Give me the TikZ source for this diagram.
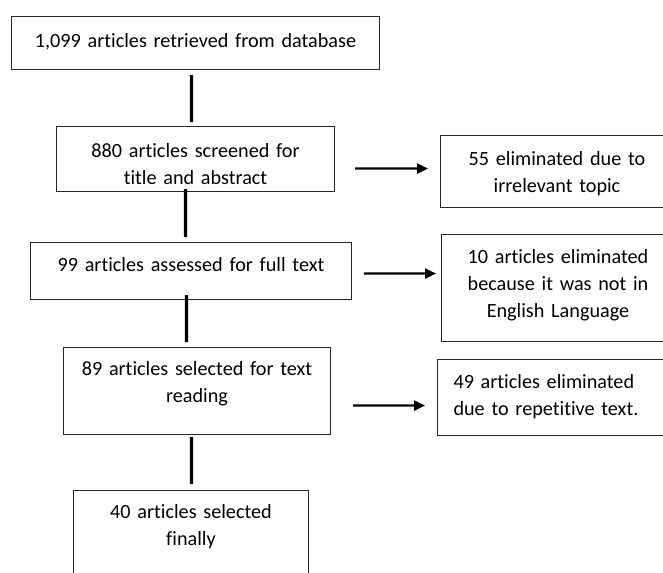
\documentclass[tikz,border=0pt]{standalone}
\usepackage{fontspec}
\setmainfont{Carlito}[RawFeature=-liga]
\usepackage{tikz}
\usetikzlibrary{arrows.meta,positioning,calc}
\tikzset{
    recbox/.style={rectangle, draw=black!85, line width=0.6pt, inner sep=0pt, align=center, font=\fontsize{11.5}{15.5}\selectfont},
    exbox/.style={recbox},
    link/.style={line width=1.8pt, black},
    elim/.style={line width=1.3pt, black, -{Triangle[length=0.22cm,width=0.2cm]}},
}
\begin{document}
\begin{tikzpicture}[x=0.02cm, y=-0.02cm]
    \useasboundingbox (0,0) rectangle (663,572);
    % main flow
    \node[recbox, anchor=north west, text width=7.36cm, text height=0.61cm, text depth=0.45cm] (b1) at (11,16) {1,099 articles retrieved from database};
    \node[recbox, anchor=north west, text width=5.56cm, text height=0.62cm, text depth=0.68cm] (b2) at (56,126) {880 articles screened for\\title and abstract};
    \node[recbox, anchor=north west, text width=6.42cm, text height=0.57cm, text depth=0.57cm] (b3) at (30,242) {99 articles assessed for full text};
    \node[recbox, anchor=north west, text width=5.34cm, text height=0.56cm, text depth=1.18cm] (b4) at (63,347) {89 articles selected for text\\reading};
    \node[recbox, anchor=north west, text width=4.70cm, text height=0.56cm, text depth=1.24cm] (b5) at (73,490) {40 articles selected\\finally};
    % eliminated
    \node[exbox, anchor=north west, text width=4.66cm, text height=0.60cm, text depth=0.84cm] (r1) at (440,135) {55 eliminated due to\\irrelevant topic};
    \node[exbox, anchor=north west, text width=4.66cm, text height=0.57cm, text depth=1.57cm] (r2) at (441,234) {10 articles eliminated\\because it was not in\\English Language};
    \node[exbox, anchor=north west, align=left, inner xsep=0.32cm, text width=4.08cm, text height=0.58cm, text depth=0.94cm] (r3) at (437,359) {49 articles eliminated\\due to repetitive text.};
    % connectors
    \draw[link] ($(b1.south)+(-4,5)$) -- ($(b2.north)+(-4,-4)$);
    \draw[link] ($(b2.south)+(-10,-3)$) -- ($(b3.north)+(-5.5,-5)$);
    \draw[link] ($(b3.south)+(-4.5,-5)$) -- ($(b4.north)+(-10.5,-5)$);
    \draw[link] ($(b4.south)+(-5.5,2)$) -- ($(b5.north)+(0.5,-6)$);
    \draw[elim] ($(b2.east)+(20,9.5)$) -- ($(r1.west)+(-12,-3)$);
    \draw[elim] ($(b3.east)+(12,2.5)$) -- ($(r2.west)+(-5,-14.5)$);
    \draw[elim] ($(b4.east)+(22,14.5)$) -- ($(r3.west)+(-12,8)$);
\end{tikzpicture}
\end{document}
